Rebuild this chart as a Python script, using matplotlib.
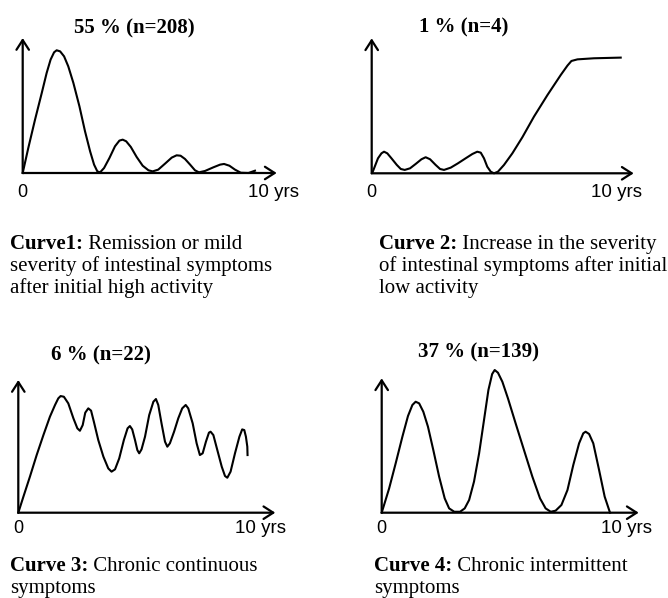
import matplotlib.pyplot as plt

# curve values: years (0-10) vs. symptom activity (arbitrary 0-10)
c1_years = [0, 0.24, 0.53, 0.82, 1.03, 1.20, 1.35, 1.46, 1.61, 1.78, 1.96, 2.18, 2.44, 2.68,
            2.90, 3.07, 3.21, 3.33, 3.50, 3.73, 3.97, 4.16, 4.30, 4.45, 4.65, 4.90, 5.16, 5.41,
            5.59, 5.83, 6.12, 6.41, 6.62, 6.79, 6.98, 7.20, 7.41, 7.58, 7.84, 8.20, 8.49, 8.66,
            8.89, 9.13, 9.38, 9.71, 9.99]
c1_level = [0, 1.85, 3.95, 5.93, 7.41, 8.40, 8.94, 9.09, 9.01, 8.64, 7.90, 6.67, 4.94, 3.09,
            1.60, 0.62, 0.12, 0.05, 0.37, 1.11, 1.98, 2.40, 2.47, 2.35, 1.93, 1.19, 0.54, 0.20,
            0.12, 0.25, 0.69, 1.14, 1.31, 1.28, 1.04, 0.62, 0.20, 0.05, 0.15, 0.42, 0.62, 0.67,
            0.54, 0.25, 0.02, 0.0, 0.17]

c2_years = [0.03, 0.13, 0.27, 0.42, 0.53, 0.67, 0.85, 1.08, 1.25, 1.42, 1.65, 1.89, 2.14, 2.32,
            2.51, 2.75, 2.94, 3.11, 3.40, 3.71, 4.04, 4.33, 4.54, 4.69, 4.83, 4.97, 5.12, 5.26,
            5.43, 5.69, 6.05, 6.48, 6.98, 7.56, 8.13, 8.42, 8.59, 8.85, 9.56, 10.71]
c2_level = [0.05, 0.49, 1.11, 1.48, 1.60, 1.48, 1.11, 0.62, 0.32, 0.25, 0.37, 0.69, 1.04, 1.19,
            1.04, 0.62, 0.32, 0.25, 0.42, 0.74, 1.11, 1.43, 1.60, 1.53, 1.11, 0.49, 0.12, 0.0,
            0.12, 0.62, 1.48, 2.67, 4.20, 5.80, 7.28, 7.98, 8.32, 8.44, 8.52, 8.57]

c3_years = [0, 0.22, 0.50, 0.79, 1.08, 1.36, 1.58, 1.72, 1.82, 1.96, 2.15, 2.37, 2.54, 2.65,
            2.77, 2.88, 3.01, 3.13, 3.25, 3.44, 3.66, 3.87, 4.01, 4.16, 4.34, 4.54, 4.70, 4.80,
            4.90, 5.02, 5.12, 5.20, 5.30, 5.45, 5.63, 5.81, 5.92, 6.02, 6.16, 6.31, 6.41, 6.52,
            6.70, 6.88, 7.05, 7.20, 7.31, 7.50, 7.67, 7.81, 7.93, 8.07, 8.20, 8.27, 8.39, 8.56,
            8.75, 8.89, 8.99, 9.13, 9.32, 9.51, 9.63, 9.72, 9.79, 9.85, 9.86]
c3_level = [0, 1.19, 2.67, 4.27, 5.75, 7.11, 7.98, 8.47, 8.64, 8.59, 8.10, 6.99, 6.25, 6.07,
            6.49, 7.41, 7.73, 7.56, 6.74, 5.38, 4.15, 3.28, 3.04, 3.21, 4.02, 5.38, 6.25, 6.42,
            6.17, 5.38, 4.64, 4.40, 4.69, 5.63, 7.23, 8.22, 8.42, 7.98, 6.62, 5.26, 4.89, 5.14,
            6.00, 6.99, 7.73, 7.98, 7.73, 6.62, 5.14, 4.27, 4.40, 5.26, 5.93, 6.00, 5.75, 4.64,
            3.41, 2.72, 2.59, 3.04, 4.40, 5.63, 6.17, 6.12, 5.63, 4.89, 4.27]

c4_years = [0, 0.32, 0.60, 0.89, 1.13, 1.32, 1.46, 1.61, 1.79, 1.99, 2.22, 2.47, 2.71, 2.90,
            3.12, 3.37, 3.57, 3.76, 3.97, 4.19, 4.40, 4.59, 4.75, 4.86, 5.00, 5.19, 5.43, 5.76,
            6.12, 6.48, 6.81, 7.05, 7.27, 7.48, 7.73, 7.99, 8.24, 8.49, 8.67, 8.77, 8.92, 9.10,
            9.35, 9.59, 9.82]
c4_level = [0, 1.80, 3.65, 5.63, 7.16, 7.98, 8.22, 8.10, 7.48, 6.37, 4.64, 2.67, 1.06, 0.32,
            0.07, 0.07, 0.32, 0.94, 2.30, 4.40, 6.86, 9.09, 10.27, 10.57, 10.37, 9.70, 8.47, 6.62,
            4.64, 2.67, 1.06, 0.32, 0.07, 0.15, 0.57, 1.68, 3.53, 5.14, 5.88, 6.00, 5.83, 5.14,
            3.16, 1.19, 0]

titles = ['55 % (n=208)', '1 % (n=4)', '6 % (n=22)', '37 % (n=139)']
captions = [
    ('Curve1:', ' Remission or mild', ['severity of intestinal symptoms', 'after initial high activity']),
    ('Curve 2:', ' Increase in the severity', ['of intestinal symptoms after initial', 'low activity']),
    ('Curve 3:', ' Chronic continuous', ['symptoms']),
    ('Curve 4:', ' Chronic intermittent', ['symptoms']),
]

W, H = 668, 598
PX_YR = 23.25
PX_LV = 13.5

fig = plt.figure(figsize=(6.68, 5.98), dpi=100)
bg = fig.add_axes([0, 0, 1, 1])
bg.set_xlim(0, W)
bg.set_ylim(H, 0)
bg.axis('off')

serif = 'Liberation Serif'
sans = 'Liberation Sans'

# origin x, origin y, x-axis length, y-axis length (pixels)
boxes = [(22.7, 173, 254, 135), (371.7, 173.3, 262, 135),
         (18.3, 512.7, 257, 132.7), (381.7, 512.7, 257, 134.4)]
curves = [(c1_years, c1_level), (c2_years, c2_level), (c3_years, c3_level), (c4_years, c4_level)]
title_pos = [(134, 33), (464, 32), (101, 360), (479, 357)]
yrs_pos = [(248.3, 197), (590.7, 197), (235, 533), (600.7, 533)]
cap_pos = [(10, 249), (379, 249), (10, 571), (374, 571)]

for i in range(4):
    ox, oy, xl, yl = boxes[i]
    ax = fig.add_axes([ox / W, 1 - oy / H, xl / W, yl / H])
    ax.set_xlim(0, xl / PX_YR)
    ax.set_ylim(0, yl / PX_LV)
    ax.axis('off')
    xs, ys = curves[i]
    ax.plot(xs, ys, color='black', lw=1.5, clip_on=False, solid_joinstyle='round')
    arrow = dict(arrowstyle='->,head_length=0.7,head_width=0.45', lw=1.6, color='black',
                 shrinkA=0, shrinkB=0, mutation_scale=10)
    ax.annotate('', xy=(1, 0), xytext=(0, 0), xycoords='axes fraction', arrowprops=arrow)
    ax.annotate('', xy=(0, 1), xytext=(0, 0), xycoords='axes fraction', arrowprops=arrow)

    bg.text(title_pos[i][0], title_pos[i][1], titles[i], family=serif, weight='bold',
            fontsize=15, ha='center', va='baseline')
    bg.text(ox, yrs_pos[i][1], '0', family=sans, fontsize=13, ha='center', va='baseline')
    bg.text(yrs_pos[i][0], yrs_pos[i][1], '10 yrs', family=sans, fontsize=13.5, ha='left', va='baseline')

    bold, rest, more = captions[i]
    cx, cy = cap_pos[i]
    t = bg.text(cx, cy, bold, family=serif, weight='bold', fontsize=15, ha='left', va='baseline')
    bg.annotate(rest, xy=(1, 0), xycoords=t, family=serif, fontsize=15, ha='left', va='bottom')
    for k, line in enumerate(more):
        bg.text(cx, cy + 22 * (k + 1), line, family=serif, fontsize=15, ha='left', va='baseline')

fig.savefig('out.png', dpi=100)
